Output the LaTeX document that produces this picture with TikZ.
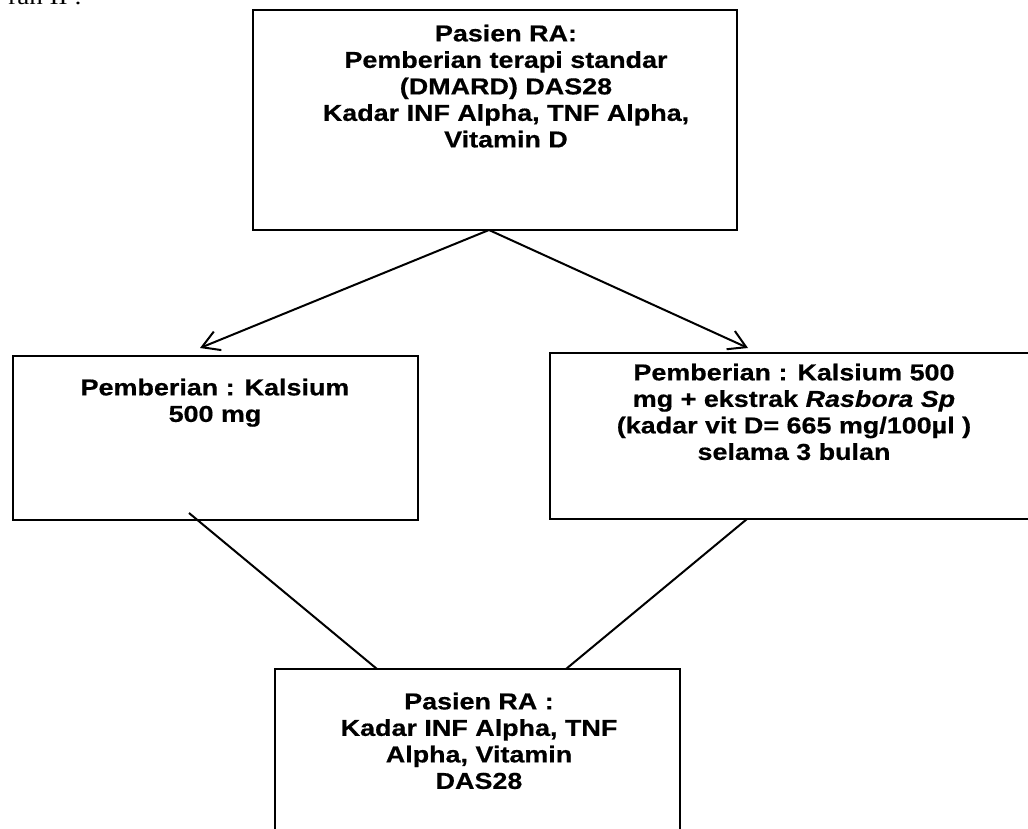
\documentclass[tikz,border=0pt]{standalone}
\usepackage{fontspec}
\setmainfont[FakeStretch=1.17,FakeBold=0.6]{Liberation Sans}
\newfontfamily\serifont[FakeStretch=1.175]{Liberation Serif}
\usetikzlibrary{arrows.meta}
\begin{document}
\begin{tikzpicture}[x=1pt,y=-1pt,
  box/.style={draw, line width=2pt, inner sep=0pt, rectangle},
  txt/.style={align=center, font=\bfseries\fontsize{23}{26.5}\selectfont, inner sep=0pt, anchor=north},
  conn/.style={line width=2pt},
  arr/.style={conn, -{Straight Barb[length=17pt,width=20pt]}}]
\useasboundingbox (0,0) rectangle (1028,829);
\clip (0,0) rectangle (1028,829);
% partial heading cut off at the top
\node[anchor=base east, inner sep=0pt, font=\serifont\fontsize{23}{26}\selectfont] (head) at (82,5) {ran II :};
% boxes
\node[box, minimum width=484pt, minimum height=220pt] (top) at (495,120) {};
\node[box, minimum width=405pt, minimum height=164pt] (left) at (215.5,438) {};
\node[box, minimum width=490pt, minimum height=166pt] (right) at (795,436) {};
\node[box, minimum width=405pt, minimum height=191pt] (bottom) at (477.5,764.5) {};
% texts
\node[txt] (toptext) at (506,24.5) {Pasien RA:\\Pemberian terapi standar\\(DMARD) DAS28\\Kadar INF Alpha, TNF Alpha,\\Vitamin D};
\node[txt] (lefttext) at (215,378.5) {Pemberian : Kalsium\\500 mg};
\node[txt] (righttext) at (794,363.5) {Pemberian : Kalsium 500\\mg + ekstrak \textit{Rasbora Sp}\\(kadar vit D= 665 mg/100µl )\\selama 3 bulan};
\node[txt] (bottomtext) at (479,692.5) {Pasien RA :\\Kadar INF Alpha, TNF\\Alpha, Vitamin\\DAS28};
% connector end points
\coordinate (apex) at (489,230);
\coordinate (ltip) at (200,348);
\coordinate (rtip) at (748,348);
\coordinate (lfoot) at (189,513);
\coordinate (rfoot) at (747,519);
\coordinate (bl) at (377,669);
\coordinate (br) at (566,669);
% connectors
\draw[arr] (apex) -- (ltip);
\draw[arr] (apex) -- (rtip);
\draw[conn] (lfoot) -- (bl);
\draw[conn] (rfoot) -- (br);
\end{tikzpicture}
\end{document}
